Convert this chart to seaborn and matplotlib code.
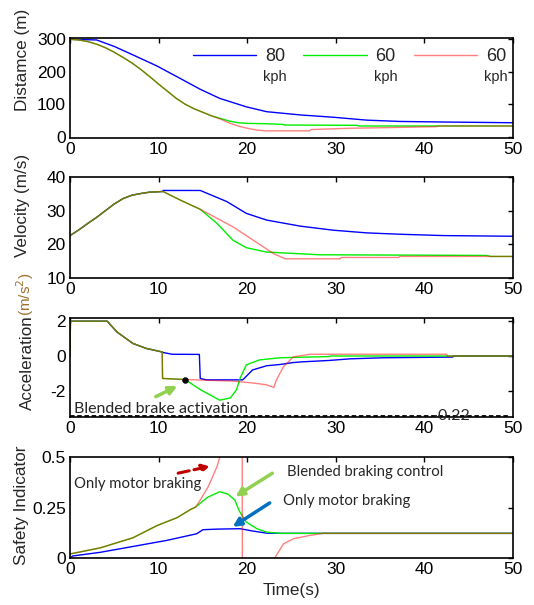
import numpy as np
import pandas as pd
import matplotlib
matplotlib.use("Agg")
import matplotlib.pyplot as plt
import seaborn as sns

# ---------------- data ----------------
# Distance (m)
t_dist_blue = [0, 3, 5, 7.1, 9.8, 12.4, 14.7, 16.9, 19.9, 22.2, 26, 29.7, 33.5, 37.2, 42.9, 50]
dist_blue = [300, 298, 278, 252, 218, 180, 146, 118, 92, 77, 67, 60, 51, 47, 45, 43]
t_dist_common = [0, 1, 2, 3, 4, 5, 6, 7, 8, 9, 10, 11, 12, 13, 14, 15, 16]
dist_common = [300, 298, 293, 285, 274, 260, 244, 227, 207, 185, 162, 140, 118, 100, 86, 75, 64]
t_dist_green = [17, 18, 19, 20, 22, 24, 24.2, 32.4, 32.6, 50]
dist_green = [56, 48, 43, 41, 40, 38, 36, 35, 33, 33]
t_dist_red = [17, 18, 19, 20, 21, 22, 27, 27.2, 31.6, 36, 41.4, 41.6, 50]
dist_red = [54, 42, 33, 26, 21, 18, 18, 22, 26, 28, 31, 33, 33]

# Velocity (m/s)
t_vel_common = [0, 1, 2, 3, 4, 5, 6, 7, 8, 9, 10.5]
vel_common = [22.6, 24.3, 26.2, 28.0, 30.0, 32.0, 33.6, 34.6, 35.1, 35.5, 35.7]
t_vel_blue = [10.5, 14.7, 17.7, 19.9, 22.2, 26, 29.7, 33.5, 37.2, 42.1, 50]
vel_blue = [36.0, 36.0, 32.7, 29.2, 27.2, 25.4, 24.2, 23.4, 23.0, 22.6, 22.4]
t_vel_gr_common = [12.4, 14.7]
vel_gr_common = [33.2, 30.4]
t_vel_green = [16.6, 18.4, 19.9, 22.2, 28.2, 47.0, 47.5, 50]
vel_green = [26.2, 21.2, 19.0, 17.7, 16.9, 16.7, 16.4, 16.4]
t_vel_red = [18.4, 20.7, 23.0, 24.3, 30.5, 30.6, 37.1, 37.2, 50]
vel_red = [25.2, 21.2, 17.2, 15.7, 15.7, 16.1, 16.1, 16.4, 16.4]

# Acceleration (m/s^2)
t_acc_common = [0, 0.05, 4.2, 5.3, 7.1, 8.6, 10.3, 10.4]
acc_common = [0, 1.97, 1.97, 1.36, 0.71, 0.43, 0.24, 0.24]
t_acc_blue = [10.5, 11.5, 14.6, 14.7, 15.4, 19.5, 20.6, 22.2, 23.7, 25.2, 26.2, 29.3, 31.6, 35.3, 43.2, 43.3, 50]
acc_blue = [0.2, 0.1, 0.09, -1.27, -1.35, -1.35, -0.79, -0.55, -0.48, -0.37, -0.33, -0.25, -0.16, -0.10, -0.06, 0, 0]
t_acc_gr_common = [10.45, 13.0]
acc_gr_common = [-1.27, -1.33]
t_acc_green = [14.7, 16.9, 18.1, 18.8, 19.2, 19.9, 21.4, 23.7, 29.3, 29.4, 50]
acc_green = [-1.9, -2.5, -2.37, -1.9, -1.25, -0.5, -0.22, -0.1, -0.03, 0, 0]
t_acc_red = [18.4, 20.7, 22.2, 23.0, 23.3, 24.1, 25.2, 27.1, 42.5, 42.6, 50]
acc_red = [-1.42, -1.53, -1.63, -1.78, -1.35, -0.6, -0.05, 0.1, 0.1, 0, 0]
activation_t = [13.0]
activation_acc = [-1.33]
threshold_label = "-0.22"

# Safety indicator
t_si_common = [0, 3.4, 7.1, 9.8, 12.1, 13.6, 14.2]
si_common = [0.02, 0.05, 0.10, 0.16, 0.20, 0.24, 0.253]
t_si_green = [15.5, 16.9, 17.8, 18.6, 19.1, 19.9, 21.1, 22.2, 23.8, 50]
si_green = [0.30, 0.328, 0.317, 0.287, 0.233, 0.178, 0.145, 0.128, 0.122, 0.122]
t_si_red = [14.7, 15.6, 16.6, 16.9, 17.5, 18.5, 19.4, 19.5, 21, 22.5, 23.1, 24.1, 25.2, 27.1, 28.6, 50]
si_red = [0.287, 0.353, 0.453, 0.5, 0.62, 0.9, 2.0, -2.0, -0.4, -0.08, 0.0, 0.07, 0.095, 0.112, 0.122, 0.122]
t_si_blue = [0, 0.3, 3.4, 7.1, 10.9, 14.3, 15.0, 16.6, 19.2, 20.7, 22.2, 24, 50]
si_blue = [0.0, 0.01, 0.028, 0.057, 0.087, 0.12, 0.14, 0.143, 0.145, 0.133, 0.123, 0.122, 0.122]

legend_labels = ["80", "60", "60"]
legend_units = "kph"

# ---------------- style ----------------
sns.set_theme(style="white")
plt.rcParams['font.family'] = ['Liberation Sans', 'DejaVu Sans']
plt.rcParams.update({
    'xtick.direction': 'in', 'ytick.direction': 'in',
    'xtick.top': True, 'ytick.right': True,
    'xtick.major.size': 3.5, 'ytick.major.size': 3.5,
    'xtick.major.width': 1.0, 'ytick.major.width': 1.0,
    'axes.linewidth': 1.2, 'axes.edgecolor': 'black',
})

BLUE = '#0000ff'
GREEN = '#00ee00'
RED = '#ff0000'
LW = 1.0

fig = plt.figure(figsize=(5.34, 6.05), dpi=100)
W, H = 534, 605


def add_ax(top_px, bottom_px):
    return fig.add_axes([70 / W, 1 - bottom_px / H, 443 / W, (bottom_px - top_px) / H])


def draw(ax, t, y, color, alpha=1.0, z=2):
    df = pd.DataFrame({'t': t, 'y': y})
    sns.lineplot(data=df, x='t', y='y', ax=ax, color=color, alpha=alpha,
                 lw=LW, sort=False, estimator=None, zorder=z)


def fmt(ax, yticks, yticklabels, ylim):
    ax.set_xlim(0, 50)
    ax.set_ylim(*ylim)
    ax.set_xticks([0, 10, 20, 30, 40, 50])
    ax.set_yticks(yticks)
    ax.set_yticklabels(yticklabels)
    ax.tick_params(labelsize=12.5, colors='black', pad=3)
    ax.set_xlabel('')
    ax.set_ylabel('')


# Panel 1: Distance
ax1 = add_ax(38, 138)
draw(ax1, t_dist_blue, dist_blue, BLUE)
draw(ax1, t_dist_common + t_dist_green, dist_common + dist_green, GREEN)
draw(ax1, t_dist_common + t_dist_red, dist_common + dist_red, RED, alpha=0.5)
fmt(ax1, [0, 100, 200, 300], ['0', '100', '200', '300'], (-4, 304))
ax1.text(-0.107, 0.78, 'Distamce (m)', rotation=90, transform=ax1.transAxes,
         ha='center', va='center', fontsize=12.3)
handles = ax1.get_lines()
leg = ax1.legend(handles[:3], legend_labels, ncol=3, frameon=False, loc='upper right',
                 bbox_to_anchor=(0.985, 0.9), fontsize=13, handlelength=3.5,
                 handletextpad=0.5, columnspacing=1.0, borderaxespad=0, borderpad=0)
for h in leg.get_lines():
    h.set_linewidth(LW)
fig.canvas.draw()
inv = fig.transFigure.inverted()
for txt in leg.get_texts():
    bb = txt.get_window_extent()
    cx, cy = inv.transform(((bb.x0 + bb.x1) / 2, bb.y0))
    fig.text(cx, cy - 5 / H, legend_units, ha='center', va='top', fontsize=10.5)

# Panel 2: Velocity
ax2 = add_ax(177, 278)
draw(ax2, t_vel_common + t_vel_blue, vel_common + vel_blue, BLUE)
draw(ax2, t_vel_common + t_vel_gr_common + t_vel_green, vel_common + vel_gr_common + vel_green, GREEN)
draw(ax2, t_vel_common + t_vel_gr_common + t_vel_red, vel_common + vel_gr_common + vel_red, RED, alpha=0.5)
fmt(ax2, [10, 20, 30, 40], ['10', '20', '30', '40'], (10, 40))
ax2.text(-0.107, 0.72, 'Velocity (m/s)', rotation=90, transform=ax2.transAxes,
         ha='center', va='center', fontsize=12.3)

# Panel 3: Acceleration
ax3 = add_ax(318, 417)
draw(ax3, t_acc_common + t_acc_blue, acc_common + acc_blue, BLUE)
draw(ax3, t_acc_common + t_acc_gr_common + t_acc_green, acc_common + acc_gr_common + acc_green, GREEN)
draw(ax3, t_acc_common + t_acc_gr_common + t_acc_red, acc_common + acc_gr_common + acc_red, RED, alpha=0.5)
fmt(ax3, [-2, 0, 2], ['-2', '0', '2'], (-3.45, 2.15))
ax3.plot([0, 49.4], [-3.38, -3.38], ls=(0, (2.5, 1.5)), color='black', lw=1.3, zorder=3)
sns.scatterplot(x=activation_t, y=activation_acc, ax=ax3, color='black', s=18, zorder=5,
                edgecolor='black')
ax3.text(0.45, -3.02, 'Blended brake activation', fontsize=11.5, family=['Lato', 'DejaVu Sans'],
         ha='left', va='center')
ax3.text(43.0, -3.42, threshold_label, fontsize=11.5, family=['Lato', 'DejaVu Sans'],
         ha='center', va='center', zorder=4)
ax3.annotate('', xy=(12.4, -1.63), xytext=(9.4, -2.37),
             arrowprops=dict(arrowstyle='-|>', color='#92d050', lw=2.5, mutation_scale=12))
ax3.text(-0.095, 0.545, 'Acceleration', rotation=90, transform=ax3.transAxes,
         ha='center', va='center', fontsize=12.3)
ax3.text(-0.102, 1.24, '(m/s$^2$)', rotation=90, transform=ax3.transAxes,
         ha='center', va='center', fontsize=11, color='#a0702f')

# Panel 4: Safety indicator
ax4 = add_ax(457, 558)
draw(ax4, t_si_blue, si_blue, BLUE)
draw(ax4, t_si_common + t_si_green, si_common + si_green, GREEN)
draw(ax4, t_si_common + t_si_red, si_common + si_red, RED, alpha=0.5)
fmt(ax4, [0, 0.25, 0.5], ['0', '0.25', '0.5'], (0, 0.5))
ax4.text(-0.11, 0.52, 'Safety Indicator', rotation=90, transform=ax4.transAxes,
         ha='center', va='center', fontsize=12.3)
ax4.set_xlabel('Time(s)', fontsize=12.3, labelpad=4)
afont = ['Lato', 'DejaVu Sans']
ax4.text(0.45, 0.367, 'Only motor braking', fontsize=10.7, family=afont, ha='left', va='center')
ax4.text(24.5, 0.427, 'Blended braking control', fontsize=10.7, family=afont, ha='left', va='center')
ax4.text(24.0, 0.28, 'Only motor braking', fontsize=10.7, family=afont, ha='left', va='center')
ax4.annotate('', xy=(16.1, 0.457), xytext=(11.9, 0.417),
             arrowprops=dict(arrowstyle='-|>', color='#c00000', lw=2.2, ls='--', mutation_scale=11))
ax4.annotate('', xy=(18.4, 0.297), xytext=(23.1, 0.427),
             arrowprops=dict(arrowstyle='-|>', color='#92d050', lw=2.5, mutation_scale=12))
ax4.annotate('', xy=(18.1, 0.147), xytext=(22.8, 0.28),
             arrowprops=dict(arrowstyle='-|>', color='#0070c0', lw=2.5, mutation_scale=12))

fig.savefig('out.png', dpi=100)
